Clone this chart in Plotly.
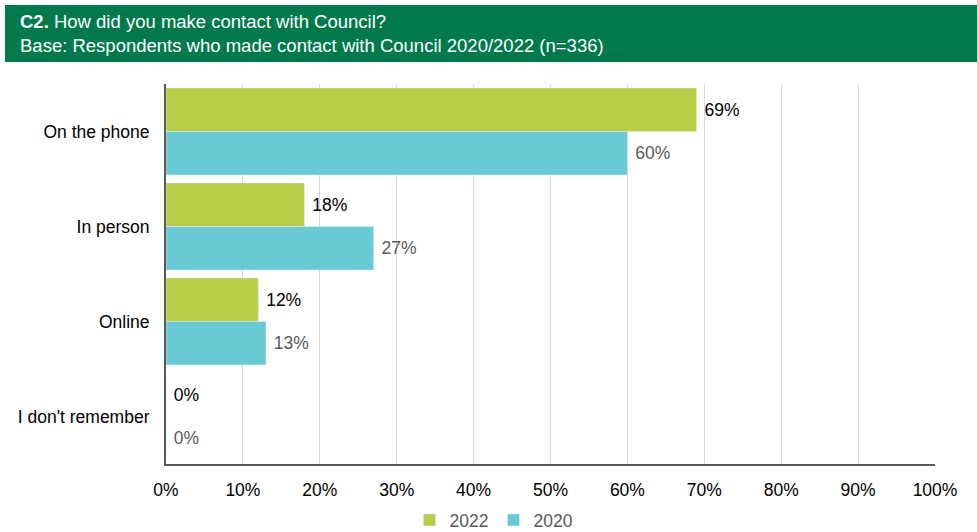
import plotly.graph_objects as go

categories = ["On the phone", "In person", "Online", "I don't remember"]
vals_2022 = [69, 18, 12, 0]
vals_2020 = [60, 27, 13, 0]
x_ticks = list(range(0, 101, 10))

W, H = 977, 532
L, R, T, B = 166, 42, 84, 68
pw, ph = W - L - R, H - T - B

def px_x(p):
    return (p - L) / pw

def px_y(p):
    return (H - B - p) / ph

fig = go.Figure()
fig.add_trace(go.Bar(
    y=categories, x=vals_2022, name="2022", orientation="h",
    marker_color="#B8CC46",
    text=[f"\u00a0{v}%" for v in vals_2022], textposition="outside",
    textfont=dict(color="#000000", size=17.5), cliponaxis=False,
))
fig.add_trace(go.Bar(
    y=categories, x=vals_2020, name="2020", orientation="h",
    marker_color="#69CAD6",
    text=[f"\u00a0{v}%" for v in vals_2020], textposition="outside",
    textfont=dict(color="#595959", size=17.5), cliponaxis=False,
))

# green header band
fig.add_shape(type="rect", xref="paper", yref="paper",
              x0=px_x(5), x1=px_x(977), y0=px_y(62), y1=px_y(5),
              fillcolor="#007A4D", line_width=0, layer="below")
fig.add_annotation(xref="paper", yref="paper", x=px_x(18), y=px_y(22),
                   xanchor="left", yanchor="middle", showarrow=False,
                   text="<b>C2.</b> How did you make contact with Council?",
                   font=dict(color="white", size=18.5))
fig.add_annotation(xref="paper", yref="paper", x=px_x(18), y=px_y(45),
                   xanchor="left", yanchor="middle", showarrow=False,
                   text="Base: Respondents who made contact with Council 2020/2022 (n=336)",
                   font=dict(color="white", size=18.5))

fig.update_layout(
    width=W, height=H,
    margin=dict(l=L, r=R, t=T, b=B, autoexpand=False),
    paper_bgcolor="white", plot_bgcolor="white",
    font=dict(family="Liberation Sans, Arial, sans-serif", size=17.5, color="#000000"),
    barmode="group", bargap=0.084, bargroupgap=0,
    showlegend=True,
    legend=dict(orientation="h", x=px_x(494), xanchor="center", y=px_y(520),
                yanchor="middle", font=dict(color="#595959", size=17.5),
                itemwidth=30, tracegroupgap=0),
)
fig.update_xaxes(range=[0, 100], tickvals=x_ticks,
                 ticktext=[f"{v}%" for v in x_ticks],
                 showgrid=True, gridcolor="#D9D9D9", gridwidth=1,
                 showline=True, linecolor="#595959", linewidth=1.5,
                 zeroline=False, ticks="", ticklabelstandoff=9,
                 tickfont=dict(size=17.5, color="#000000"))
fig.update_yaxes(autorange="reversed", showline=True, linecolor="#595959",
                 linewidth=2, ticks="", ticklabelstandoff=11,
                 tickfont=dict(size=17.5, color="#000000"))

fig.write_html("out.html", config={"displayModeBar": False},
               post_script="document.body.style.margin='0';")
